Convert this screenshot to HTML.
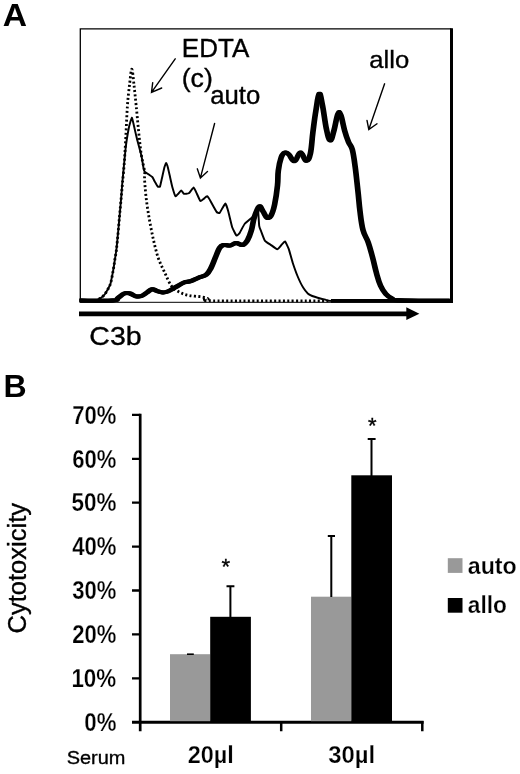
<!DOCTYPE html>
<html><head><meta charset="utf-8"><title>Figure</title>
<style>
html,body{margin:0;padding:0;background:#fff;}
svg{display:block;}
text{font-family:"Liberation Sans",sans-serif;fill:#000;stroke:#000;stroke-width:0.35px;}
.h{font-weight:bold;stroke:none;}
.b{font-weight:bold;stroke:#fff;stroke-width:0.25px;paint-order:fill stroke;}
</style></head><body>
<svg width="520" height="774" viewBox="0 0 520 774">
<rect width="520" height="774" fill="#fff"/>
<!-- Panel A -->
<text x="2.70" y="26.2" font-size="31.3" class="h" textLength="24.29" lengthAdjust="spacingAndGlyphs">A</text>
<path d="M80.3,301V28.8H451.5" fill="none" stroke="#000" stroke-width="1.3"/>
<path d="M451.5,28.3V303" fill="none" stroke="#000" stroke-width="3"/>
<path d="M80,302.3H451" fill="none" stroke="#000" stroke-width="1"/>
<path d="M331,300.9H453" fill="none" stroke="#000" stroke-width="3.8"/>
<path d="M95,301C95.2,300.9 97.6,299.7 98,299.5C98.4,299.3 101.0,297.9 101.5,297.5C102.0,297.1 104.6,294.6 105,294C105.4,293.4 107.6,289.7 108,289C108.4,288.3 110.4,284.2 110.7,283C111.0,281.8 112.7,273.0 113,271.5C113.3,270.0 114.6,261.5 114.8,260C115.0,258.5 116.3,251.1 116.5,249C116.7,246.9 118.2,231.3 118.5,228C118.8,224.7 120.7,203.0 121,200C121.3,197.0 122.0,186.4 122.3,183C122.6,179.6 125.2,152.2 125.6,148.5C126.0,144.8 128.4,130.1 128.8,128C129.2,125.9 131.5,117.8 131.8,117.7C132.1,117.6 133.7,124.6 134,126C134.3,127.4 136.5,137.0 137,139C137.5,141.0 141.1,154.1 141.5,156C141.9,157.9 143.3,167.0 143.5,168C143.7,169.0 144.3,171.1 144.6,171.5C144.9,171.9 147.5,173.6 148,174C148.5,174.4 151.8,176.5 152.3,177C152.8,177.5 154.6,181.4 155,182C155.4,182.6 157.4,186.2 157.7,186.5C158.0,186.8 159.7,187.1 160,186.5C160.3,185.9 161.7,179.3 162,178C162.3,176.7 164.2,168.0 164.5,167C164.8,166.0 166.0,162.9 166.2,163C166.4,163.1 167.8,167.2 168,168C168.2,168.8 169.3,173.7 169.6,175C169.9,176.3 171.9,185.6 172.3,187C172.7,188.4 175.0,195.7 175.4,196.2C175.8,196.7 177.6,194.4 178,194C178.4,193.6 180.8,190.4 181.2,190.4C181.6,190.4 183.5,193.6 184,193.8C184.5,194.0 188.2,193.7 188.8,193.3C189.4,192.9 193.2,187.5 193.7,187.5C194.2,187.5 196.6,193.1 197,194C197.4,194.9 200.0,200.7 200.4,201C200.8,201.3 203.1,199.3 203.5,199C203.9,198.7 206.6,196.0 207.1,196.2C207.6,196.4 210.4,200.9 211,202C211.6,203.1 216.1,211.3 216.7,212C217.3,212.7 219.2,213.3 219.6,213C220.0,212.7 222.1,208.6 222.5,208C222.9,207.4 225.0,203.3 225.4,203.5C225.8,203.7 227.9,209.9 228.3,211.5C228.7,213.1 231.6,225.4 232.1,227C232.6,228.6 236.0,235.2 236.5,235.6C237.0,236.0 239.3,233.5 239.8,232.7C240.3,231.9 243.8,225.0 244.6,224C245.4,223.0 251.5,218.1 252.3,217.3C253.1,216.5 255.6,212.6 256,212C256.4,211.4 257.8,208.1 258,209C258.2,209.9 259.0,224.3 259.2,225.8C259.4,227.3 260.6,230.0 261,231C261.4,232.0 264.1,239.6 264.8,240.6C265.5,241.6 270.7,244.8 271.5,245.4C272.3,246.0 276.7,249.2 277.3,249.2C277.9,249.2 280.5,246.0 281,245.5C281.5,245.0 284.5,241.3 285,241.5C285.5,241.7 288.3,247.8 288.8,249.2C289.3,250.6 292.1,260.9 292.7,262.7C293.3,264.5 296.8,274.3 297.5,276C298.2,277.7 302.5,286.5 303.3,287.7C304.1,288.9 308.0,293.7 309,294.4C310.0,295.1 316.6,297.4 317.7,297.7C318.8,298.0 324.4,299.4 325.4,299.6C326.4,299.8 324.7,300.9 333,301C341.3,301.1 442.2,301.0 450,301" fill="none" stroke="#000" stroke-width="1.95" stroke-linejoin="round"/>
<path d="M95,301C95.5,300.8 96.9,300.1 98,299.5C99.1,298.9 100.3,298.4 101.5,297.5C102.7,296.6 103.9,295.4 105,294C106.1,292.6 107.0,290.8 108,289C109.0,287.2 109.9,285.9 110.7,283C111.5,280.1 112.3,275.3 113,271.5C113.7,267.7 114.2,263.8 114.8,260C115.4,256.2 115.9,254.3 116.5,249C117.1,243.7 117.8,236.2 118.5,228C119.2,219.8 120.3,207.5 121,200C121.7,192.5 121.9,189.7 122.5,183C123.1,176.3 124.0,167.7 124.5,160C125.0,152.3 125.3,146.0 125.8,137C126.3,128.0 126.8,114.7 127.4,106C128.0,97.3 128.8,91.1 129.5,85C130.2,78.9 131.1,69.2 131.8,69.2C132.6,69.2 133.3,78.9 134,85C134.7,91.1 135.3,97.3 136.2,106C137.1,114.7 138.3,128.7 139.2,137C140.1,145.3 140.6,150.2 141.5,156C142.4,161.8 144.1,167.5 144.6,171.5C145.1,175.5 144.3,175.4 144.6,180C144.9,184.6 145.5,192.8 146.3,199.2C147.1,205.6 148.1,212.1 149.2,218.5C150.3,224.9 151.6,231.3 153,237.7C154.4,244.1 156.0,251.2 157.9,257C159.8,262.8 162.4,267.5 164.6,272.3C166.8,277.1 168.9,282.5 171.3,285.8C173.7,289.1 176.3,290.4 179.2,292C182.1,293.6 185.0,294.6 188.8,295.4C192.7,296.2 199.1,296.4 202.3,297C205.5,297.6 206.2,298.2 208,298.8C209.8,299.4 192.2,300.5 213,300.8C233.8,301.1 313.0,300.8 333,300.8" fill="none" stroke="#000" stroke-width="2.8" stroke-dasharray="2 2.35" stroke-linejoin="round"/>
<g fill="none" stroke="#000" stroke-width="3.9" stroke-linejoin="round">
<path d="M80,300.5C86.5,300.5 105.1,301.0 112.7,300.5C120.3,300.0 115.7,299.4 118,298C120.3,296.6 121.8,294.4 124.2,293.5C126.6,292.6 127.7,292.9 130,293.5C132.3,294.1 133.5,295.8 135.8,296.3C138.1,296.8 139.3,296.8 141.5,296C143.7,295.2 144.9,293.9 147,292.5C149.1,291.1 150.0,289.5 152,289.2C154.0,288.9 154.9,290.3 157,291C159.1,291.7 160.6,292.4 162.7,292.5C164.8,292.6 165.2,292.5 167.7,291.5C170.2,290.5 172.1,289.1 175.4,287.3C178.7,285.5 180.9,283.7 184,282.5C187.1,281.3 187.9,282.2 190.8,281.2C193.7,280.2 195.4,279.0 198.5,277.7C201.6,276.4 203.7,276.7 206.2,274.8C208.7,272.9 209.1,271.7 211,268C212.9,264.3 214.1,260.5 215.8,256.5C217.5,252.5 218.1,250.2 219.6,247.9C221.1,245.6 221.4,245.5 223.5,245C225.6,244.5 227.7,246.0 230.2,245.6C232.7,245.2 233.5,243.1 236,243C238.5,242.9 240.4,245.6 242.7,245C245.0,244.4 245.8,243.1 247.5,240.2C249.2,237.3 249.9,235.2 251.3,230.6C252.7,226.0 252.8,221.8 254.4,217C256.0,212.2 257.5,207.6 259.2,206.5C260.9,205.4 261.4,209.1 263,211.3C264.6,213.5 265.4,216.8 267,217.7C268.6,218.6 269.3,218.6 270.8,216C272.3,213.4 273.3,210.7 274.6,204.6C275.9,198.5 276.8,192.2 277.5,185.4C278.2,178.6 277.6,176.4 278.3,170.8C279.0,165.2 279.9,161.0 281.2,157.3C282.5,153.6 283.5,153.1 285,152.5C286.5,151.9 286.9,152.7 288.8,154.4C290.7,156.1 292.3,161.6 294.6,161.2C296.9,160.8 298.1,152.6 300.4,152.5C302.7,152.4 304.2,160.6 306.2,160.8C308.2,161.0 309.1,159.2 310.4,153.5C311.7,147.8 311.8,140.8 312.9,132.3C314.0,123.8 314.5,118.9 315.8,111.2C317.1,103.5 317.9,95.0 319.2,93.8C320.5,92.6 321.1,98.5 322.5,105.4C323.9,112.3 324.8,121.5 326.3,128.5C327.8,135.5 328.7,140.0 330.2,140.4C331.7,140.8 332.5,135.7 334,130.4C335.5,125.1 336.5,117.1 337.9,114C339.3,110.9 339.5,111.7 340.8,115C342.1,118.3 343.1,125.0 344.6,130.4C346.1,135.8 347.0,138.2 348.5,142C350.0,145.8 351.0,144.6 352.3,149.6C353.6,154.6 354.1,158.8 355.2,167C356.3,175.2 356.9,181.8 357.9,190.7C358.9,199.6 359.0,203.4 360,211.3C361.0,219.2 361.4,223.8 363,230C364.6,236.2 366.3,236.9 368.2,242.3C370.1,247.7 370.7,250.6 372.4,256.8C374.1,263.0 374.9,267.5 376.5,273.3C378.1,279.1 378.7,281.6 380.6,285.7C382.5,289.8 383.5,291.4 385.8,294C388.1,296.6 389.5,297.3 392,298.5C394.5,299.7 386.6,299.7 398.2,300.2C409.8,300.7 439.6,300.7 450,300.8" transform="translate(-0.9,0)"/>
<path d="M80,300.5C86.5,300.5 105.1,301.0 112.7,300.5C120.3,300.0 115.7,299.4 118,298C120.3,296.6 121.8,294.4 124.2,293.5C126.6,292.6 127.7,292.9 130,293.5C132.3,294.1 133.5,295.8 135.8,296.3C138.1,296.8 139.3,296.8 141.5,296C143.7,295.2 144.9,293.9 147,292.5C149.1,291.1 150.0,289.5 152,289.2C154.0,288.9 154.9,290.3 157,291C159.1,291.7 160.6,292.4 162.7,292.5C164.8,292.6 165.2,292.5 167.7,291.5C170.2,290.5 172.1,289.1 175.4,287.3C178.7,285.5 180.9,283.7 184,282.5C187.1,281.3 187.9,282.2 190.8,281.2C193.7,280.2 195.4,279.0 198.5,277.7C201.6,276.4 203.7,276.7 206.2,274.8C208.7,272.9 209.1,271.7 211,268C212.9,264.3 214.1,260.5 215.8,256.5C217.5,252.5 218.1,250.2 219.6,247.9C221.1,245.6 221.4,245.5 223.5,245C225.6,244.5 227.7,246.0 230.2,245.6C232.7,245.2 233.5,243.1 236,243C238.5,242.9 240.4,245.6 242.7,245C245.0,244.4 245.8,243.1 247.5,240.2C249.2,237.3 249.9,235.2 251.3,230.6C252.7,226.0 252.8,221.8 254.4,217C256.0,212.2 257.5,207.6 259.2,206.5C260.9,205.4 261.4,209.1 263,211.3C264.6,213.5 265.4,216.8 267,217.7C268.6,218.6 269.3,218.6 270.8,216C272.3,213.4 273.3,210.7 274.6,204.6C275.9,198.5 276.8,192.2 277.5,185.4C278.2,178.6 277.6,176.4 278.3,170.8C279.0,165.2 279.9,161.0 281.2,157.3C282.5,153.6 283.5,153.1 285,152.5C286.5,151.9 286.9,152.7 288.8,154.4C290.7,156.1 292.3,161.6 294.6,161.2C296.9,160.8 298.1,152.6 300.4,152.5C302.7,152.4 304.2,160.6 306.2,160.8C308.2,161.0 309.1,159.2 310.4,153.5C311.7,147.8 311.8,140.8 312.9,132.3C314.0,123.8 314.5,118.9 315.8,111.2C317.1,103.5 317.9,95.0 319.2,93.8C320.5,92.6 321.1,98.5 322.5,105.4C323.9,112.3 324.8,121.5 326.3,128.5C327.8,135.5 328.7,140.0 330.2,140.4C331.7,140.8 332.5,135.7 334,130.4C335.5,125.1 336.5,117.1 337.9,114C339.3,110.9 339.5,111.7 340.8,115C342.1,118.3 343.1,125.0 344.6,130.4C346.1,135.8 347.0,138.2 348.5,142C350.0,145.8 351.0,144.6 352.3,149.6C353.6,154.6 354.1,158.8 355.2,167C356.3,175.2 356.9,181.8 357.9,190.7C358.9,199.6 359.0,203.4 360,211.3C361.0,219.2 361.4,223.8 363,230C364.6,236.2 366.3,236.9 368.2,242.3C370.1,247.7 370.7,250.6 372.4,256.8C374.1,263.0 374.9,267.5 376.5,273.3C378.1,279.1 378.7,281.6 380.6,285.7C382.5,289.8 383.5,291.4 385.8,294C388.1,296.6 389.5,297.3 392,298.5C394.5,299.7 386.6,299.7 398.2,300.2C409.8,300.7 439.6,300.7 450,300.8" transform="translate(0.9,0)"/>
<path d="M80,300.5C86.5,300.5 105.1,301.0 112.7,300.5C120.3,300.0 115.7,299.4 118,298C120.3,296.6 121.8,294.4 124.2,293.5C126.6,292.6 127.7,292.9 130,293.5C132.3,294.1 133.5,295.8 135.8,296.3C138.1,296.8 139.3,296.8 141.5,296C143.7,295.2 144.9,293.9 147,292.5C149.1,291.1 150.0,289.5 152,289.2C154.0,288.9 154.9,290.3 157,291C159.1,291.7 160.6,292.4 162.7,292.5C164.8,292.6 165.2,292.5 167.7,291.5C170.2,290.5 172.1,289.1 175.4,287.3C178.7,285.5 180.9,283.7 184,282.5C187.1,281.3 187.9,282.2 190.8,281.2C193.7,280.2 195.4,279.0 198.5,277.7C201.6,276.4 203.7,276.7 206.2,274.8C208.7,272.9 209.1,271.7 211,268C212.9,264.3 214.1,260.5 215.8,256.5C217.5,252.5 218.1,250.2 219.6,247.9C221.1,245.6 221.4,245.5 223.5,245C225.6,244.5 227.7,246.0 230.2,245.6C232.7,245.2 233.5,243.1 236,243C238.5,242.9 240.4,245.6 242.7,245C245.0,244.4 245.8,243.1 247.5,240.2C249.2,237.3 249.9,235.2 251.3,230.6C252.7,226.0 252.8,221.8 254.4,217C256.0,212.2 257.5,207.6 259.2,206.5C260.9,205.4 261.4,209.1 263,211.3C264.6,213.5 265.4,216.8 267,217.7C268.6,218.6 269.3,218.6 270.8,216C272.3,213.4 273.3,210.7 274.6,204.6C275.9,198.5 276.8,192.2 277.5,185.4C278.2,178.6 277.6,176.4 278.3,170.8C279.0,165.2 279.9,161.0 281.2,157.3C282.5,153.6 283.5,153.1 285,152.5C286.5,151.9 286.9,152.7 288.8,154.4C290.7,156.1 292.3,161.6 294.6,161.2C296.9,160.8 298.1,152.6 300.4,152.5C302.7,152.4 304.2,160.6 306.2,160.8C308.2,161.0 309.1,159.2 310.4,153.5C311.7,147.8 311.8,140.8 312.9,132.3C314.0,123.8 314.5,118.9 315.8,111.2C317.1,103.5 317.9,95.0 319.2,93.8C320.5,92.6 321.1,98.5 322.5,105.4C323.9,112.3 324.8,121.5 326.3,128.5C327.8,135.5 328.7,140.0 330.2,140.4C331.7,140.8 332.5,135.7 334,130.4C335.5,125.1 336.5,117.1 337.9,114C339.3,110.9 339.5,111.7 340.8,115C342.1,118.3 343.1,125.0 344.6,130.4C346.1,135.8 347.0,138.2 348.5,142C350.0,145.8 351.0,144.6 352.3,149.6C353.6,154.6 354.1,158.8 355.2,167C356.3,175.2 356.9,181.8 357.9,190.7C358.9,199.6 359.0,203.4 360,211.3C361.0,219.2 361.4,223.8 363,230C364.6,236.2 366.3,236.9 368.2,242.3C370.1,247.7 370.7,250.6 372.4,256.8C374.1,263.0 374.9,267.5 376.5,273.3C378.1,279.1 378.7,281.6 380.6,285.7C382.5,289.8 383.5,291.4 385.8,294C388.1,296.6 389.5,297.3 392,298.5C394.5,299.7 386.6,299.7 398.2,300.2C409.8,300.7 439.6,300.7 450,300.8"/>
</g>
<text x="181.86" y="56.6" font-size="25.1" textLength="67.36" lengthAdjust="spacingAndGlyphs">EDTA</text>
<text x="181.68" y="86.5" font-size="25.1" textLength="31.13" lengthAdjust="spacingAndGlyphs">(c)</text>
<text x="210.20" y="103.8" font-size="25.1" textLength="50.10" lengthAdjust="spacingAndGlyphs">auto</text>
<text x="369.28" y="67.6" font-size="24.4" textLength="39.88" lengthAdjust="spacingAndGlyphs">allo</text>
<path d="M175.2,58.8L151.5,92.3M152.7,82.7L151.5,92.3L161.7,88" fill="none" stroke="#000" stroke-width="1.4" stroke-linecap="round"/>
<path d="M214.6,123.5L200.4,177.9M197.3,168.8L200.4,177.9L207.5,171.5" fill="none" stroke="#000" stroke-width="1.4" stroke-linecap="round"/>
<path d="M384.6,83.8L368.8,129.6M367,120.4L368.8,129.6L377,123.8" fill="none" stroke="#000" stroke-width="1.4" stroke-linecap="round"/>
<path d="M79,313.9H408" fill="none" stroke="#000" stroke-width="4.8"/>
<path d="M406.3,307.3L419.4,313.7L406.3,320Z" fill="#000"/>
<text x="89.36" y="344.7" font-size="26.3" textLength="52.26" lengthAdjust="spacingAndGlyphs">C3b</text>
<!-- Panel B -->
<text x="3.48" y="396.9" font-size="31" class="h" textLength="23.13" lengthAdjust="spacingAndGlyphs">B</text>
<g fill="none" stroke="#000">
<path d="M140.2,413.7V731.3" stroke-width="2.7"/>
<path d="M132,722.3H423.6" stroke-width="3.1"/>
<path d="M132,414.8H140.4M132,458.8H140.4M132,502.7H140.4M132,546.6H140.4M132,590.5H140.4M132,634.4H140.4M132,678.3H140.4" stroke-width="2.3"/>
<path d="M281.2,722V731.3M422.3,721V731.3" stroke-width="2.5"/>
</g>
<text x="72.20" y="423.6" font-size="25" class="b" textLength="44.12" lengthAdjust="spacingAndGlyphs">70%</text>
<text x="72.20" y="467.5" font-size="25" class="b" textLength="44.12" lengthAdjust="spacingAndGlyphs">60%</text>
<text x="71.40" y="511.4" font-size="25" class="b" textLength="44.98" lengthAdjust="spacingAndGlyphs">50%</text>
<text x="72.20" y="555.3" font-size="25" class="b" textLength="44.32" lengthAdjust="spacingAndGlyphs">40%</text>
<text x="72.20" y="599.2" font-size="25" class="b" textLength="44.12" lengthAdjust="spacingAndGlyphs">30%</text>
<text x="72.20" y="643.1" font-size="25" class="b" textLength="44.12" lengthAdjust="spacingAndGlyphs">20%</text>
<text x="71.40" y="687.0" font-size="25" class="b" textLength="44.80" lengthAdjust="spacingAndGlyphs">10%</text>
<text x="84.32" y="730.9" font-size="25" class="b" textLength="32.10" lengthAdjust="spacingAndGlyphs">0%</text>
<rect x="170" y="654.2" width="40.2" height="67" fill="#999"/>
<rect x="210.2" y="616.8" width="40.7" height="104.5" fill="#000"/>
<rect x="311" y="596.7" width="40.3" height="124.5" fill="#999"/>
<rect x="351.3" y="475.3" width="40.7" height="246" fill="#000"/>
<g fill="none" stroke="#000" stroke-width="2">
<path d="M230.4,617V586M226.5,586.2H234.4"/>
<path d="M331.3,597V536M327.8,536.1H335"/>
<path d="M371.5,476V438.7M367.7,438.9H375.6"/>
<path d="M187,654.2H193.8" stroke-width="1.6"/>
</g>
<text x="225.9" y="574.2" font-size="22" text-anchor="middle">*</text>
<text x="372.4" y="432.8" font-size="22" text-anchor="middle">*</text>
<rect x="447.8" y="558.2" width="14.7" height="14.7" fill="#999"/>
<rect x="447.8" y="598" width="14.7" height="14.7" fill="#000"/>
<text x="467.78" y="573.7" font-size="24.2" class="b" textLength="48.96" lengthAdjust="spacingAndGlyphs">auto</text>
<text x="467.78" y="613.2" font-size="24.2" class="b" textLength="39.11" lengthAdjust="spacingAndGlyphs">allo</text>
<text x="187.66" y="763.0" font-size="24.3" class="b" textLength="46.09" lengthAdjust="spacingAndGlyphs">20µl</text>
<text x="328.20" y="763.0" font-size="24.3" class="b" textLength="46.88" lengthAdjust="spacingAndGlyphs">30µl</text>
<text x="66.66" y="764.4" font-size="19.2" textLength="58.71" lengthAdjust="spacingAndGlyphs">Serum</text>
<text transform="translate(26.4,633.5) rotate(-90)" font-size="26.3" textLength="130.6" lengthAdjust="spacingAndGlyphs">Cytotoxicity</text>
</svg>
</body></html>
